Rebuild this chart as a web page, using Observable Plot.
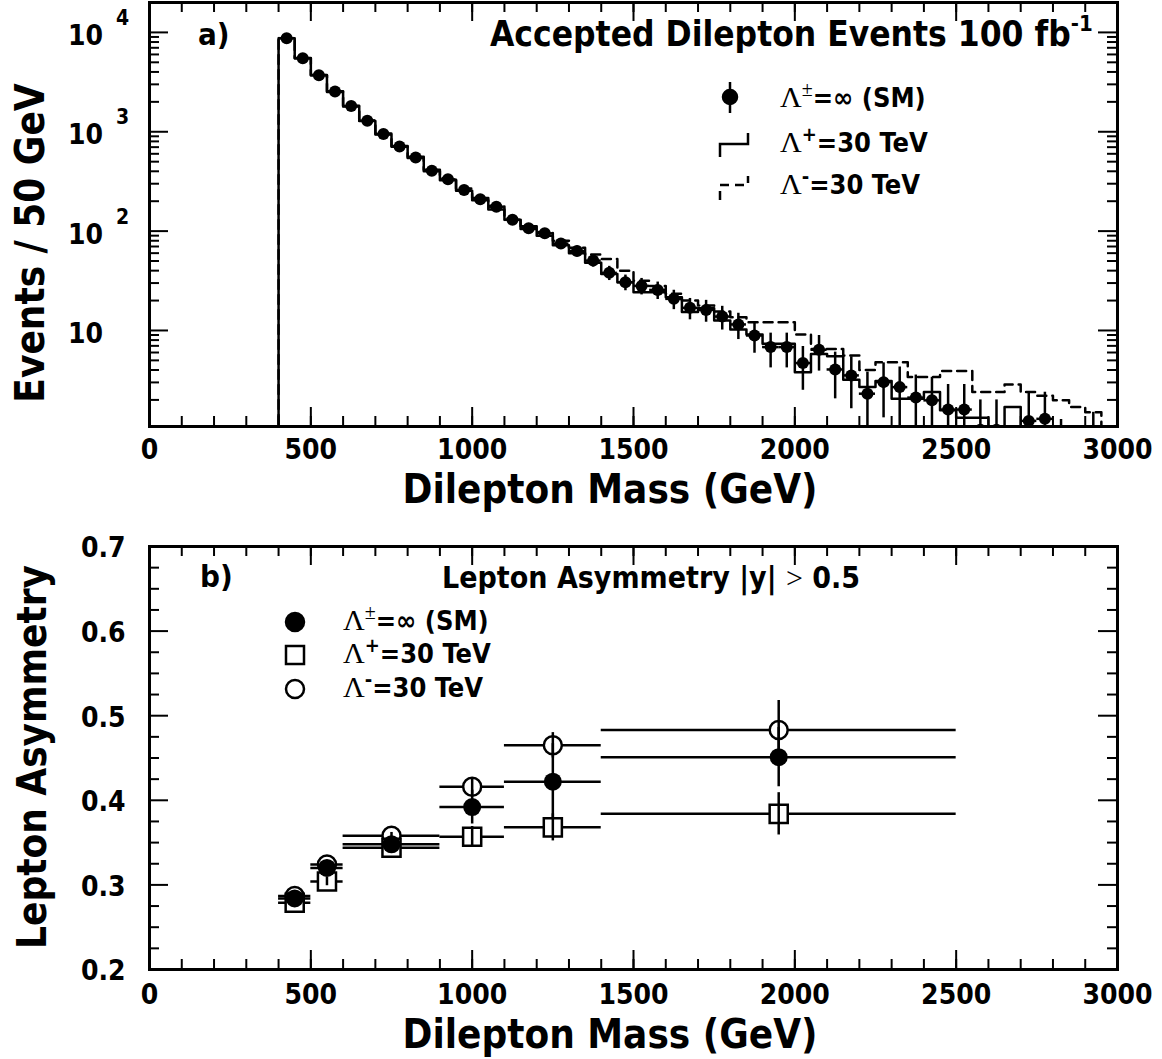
<!DOCTYPE html>
<html><head><meta charset="utf-8">
<script src="https://cdn.jsdelivr.net/npm/d3@7"></script>
<script src="https://cdn.jsdelivr.net/npm/@observablehq/plot@0.6"></script>
<style>
html,body{margin:0;padding:0;background:#fff;}
#chart svg{display:block;background:#fff;}
</style></head><body><div id="chart"></div>
<script>
const FONT = '"DejaVu Sans Condensed","DejaVu Sans",sans-serif';
const SERIF = '"Liberation Serif","DejaVu Serif",serif';

// ---------- Panel a: accepted dilepton events per 50 GeV bin ----------
const binWidth = 50;
const massBins = [400,450,500,550,600,650,700,750,800,850,900,950,1000,1050,1100,1150,1200,1250,1300,1350,1400,1450,1500,1550,1600,1650,1700,1750,1800,1850,1900,1950,2000,2050,2100,2150,2200,2250,2300,2350,2400,2450,2500,2550,2600,2650,2700,2750,2800,2850,2900];
const smEvents = [8750,5500,3715,2540,1813,1290,948,712,552,405,332,259,209,176,130,107,95,75,63,50.5,38,30.6,28.1,25.6,20.8,16.9,16.1,13.8,11.5,8.9,6.8,6.8,4.7,6.4,4.05,3.53,2.31,3.02,2.69,2.11,1.98,1.6,1.6,1.0,1.0,null,1.23,1.29,0.5,null,0.5];
const smErr = [93.5,74.2,61,50.4,42.6,35.9,30.8,26.7,23.5,20.1,18.2,16.1,14.5,13.3,11.4,10.3,9.7,8.7,7.9,7.1,6.2,5.5,5.3,5.1,4.6,4.1,4.0,3.7,3.4,3.0,2.6,2.6,2.2,2.5,2.0,1.9,1.5,1.7,1.6,1.45,1.4,1.26,1.26,1.0,1.0,null,1.1,1.1,0.77,null,1.0];
const lamPlusEvents = [8750,5500,3700,2520,1800,1280,940,705,545,400,325,255,205,165,130,105,90,72,60,48,37,30.6,24.3,24.3,21.6,15.3,16.7,12.6,10.2,9.1,7.35,7.35,3.8,5.8,5.5,3.2,2.7,3.1,2.06,2.06,2.4,1.57,1.32,1.32,0,1.7,0,0,0,0,0];
const lamMinusEvents = [8750,5520,3730,2560,1830,1300,960,720,560,415,340,268,215,180,135,112,98,80,68,58,52.5,40,31.6,28,23.4,20,17.8,15.5,13.6,12.1,12.1,12.1,9.1,6.5,6.5,5.6,4.0,4.8,4.8,3.4,3.4,3.9,3.9,2.4,2.4,2.86,2.4,2.2,1.98,1.7,1.5];

const xLabels = [0,500,1000,1500,2000,2500,3000];
const xMinorTicks = [0,100,200,300,400,500,600,700,800,900,1000,1100,1200,1300,1400,1500,1600,1700,1800,1900,2000,2100,2200,2300,2400,2500,2600,2700,2800,2900,3000];
const yDecadesA = [10,100,1000,10000];
const yDecadeExp = ["", "2", "3", "4"];
const yMinorA = [2,3,4,5,6,7,8,9,20,30,40,50,60,70,80,90,200,300,400,500,600,700,800,900,2000,3000,4000,5000,6000,7000,8000,9000];

// ---------- Panel b: lepton asymmetry ----------
const asymLo = [400,500,600,900,1100,1400];
const asymHi = [500,600,900,1100,1400,2500];
const asymCenter = [450,550,750,1000,1250,1950];
const asymSM = [0.284,0.320,0.348,0.392,0.422,0.451];
const asymPlus = [0.279,0.304,0.344,0.357,0.368,0.384];
const asymMinus = [0.287,0.324,0.358,0.416,0.465,0.483];
const asymErrSM = [0.004,0.005,0.004,0.02,0.045,0.035];
const asymErrPlus = [0.004,0.005,0.004,0.012,0.016,0.025];
const asymErrMinus = [0.004,0.005,0.004,0.01,0.015,0.035];
const yLabelsB = [0.2,0.3,0.4,0.5,0.6,0.7];
const yMinorB = [0.225,0.25,0.275,0.325,0.35,0.375,0.425,0.45,0.475,0.525,0.55,0.575,0.625,0.65,0.675];

// ---------- layout ----------
const W = 1162;
const mL = 149, mR = 45;
const FW = W - mL - mR;
const A = {h: 520, mt: 2, mb: 94};
const B = {h: 539, mt: 26, mb: 90};
const FHA = A.h - A.mt - A.mb;
const FHB = B.h - B.mt - B.mb;
const FLOOR = 0.05;

function tickMarks(xMaj, xMin, yMaj, yMin, FH) {
  const sw = 2;
  return [
    Plot.ruleX(xMin, {x: d => d, insetTop: FH - 10, strokeWidth: sw}),
    Plot.ruleX(xMin, {x: d => d, insetBottom: FH - 10, strokeWidth: sw}),
    Plot.ruleX(xMaj, {x: d => d, insetTop: FH - 19, strokeWidth: sw}),
    Plot.ruleX(xMaj, {x: d => d, insetBottom: FH - 19, strokeWidth: sw}),
    Plot.ruleY(yMin, {y: d => d, insetRight: FW - 10, strokeWidth: sw}),
    Plot.ruleY(yMin, {y: d => d, insetLeft: FW - 10, strokeWidth: sw}),
    Plot.ruleY(yMaj, {y: d => d, insetRight: FW - 19, strokeWidth: sw}),
    Plot.ruleY(yMaj, {y: d => d, insetLeft: FW - 19, strokeWidth: sw})
  ];
}

function histPath(values) {
  const pts = [{x: massBins[0], y: FLOOR}];
  values.forEach((v, i) => pts.push({x: massBins[i], y: Math.max(v, FLOOR)}));
  const last = massBins[massBins.length - 1] + binWidth;
  pts.push({x: last, y: Math.max(values[values.length - 1], FLOOR)});
  pts.push({x: last, y: FLOOR});
  return pts;
}

const smRows = massBins.map((lo, i) => ({lo, hi: lo + binWidth, c: lo + binWidth / 2, v: smEvents[i], e: smErr[i]}))
  .filter(d => d.v != null);

const plotA = Plot.plot({
  width: W, height: A.h,
  marginLeft: mL, marginRight: mR, marginTop: A.mt, marginBottom: A.mb,
  style: {fontFamily: FONT, fontWeight: "bold", color: "black", background: "white"},
  x: {domain: [0, 3000], axis: null},
  y: {type: "log", domain: [1.08, 2.0e4], axis: null},
  marks: [
    Plot.line(histPath(lamPlusEvents), {x: "x", y: "y", curve: "step-after", stroke: "black", strokeWidth: 2.5, clip: true}),
    Plot.line(histPath(lamMinusEvents), {x: "x", y: "y", curve: "step-after", stroke: "black", strokeWidth: 2.5, strokeDasharray: "9,6", clip: true}),
    Plot.ruleY(smRows, {y: "v", x1: "lo", x2: "hi", strokeWidth: 2.5, clip: true}),
    Plot.ruleX(smRows, {x: "c", y1: d => Math.max(d.v - d.e, FLOOR), y2: d => d.v + d.e, strokeWidth: 2.5, clip: true}),
    Plot.dot(smRows, {x: "c", y: "v", r: 6, fill: "black", clip: true}),
    ...tickMarks(xLabels, xMinorTicks, yDecadesA, yMinorA, FHA),
    Plot.frame({strokeWidth: 3}),
    Plot.text(xLabels, {x: d => d, text: d => String(d), frameAnchor: "bottom", dy: 24, lineAnchor: "middle", fontSize: 28, fontWeight: "bold"})
  ]
});

const asymRows = [];
asymCenter.forEach((c, i) => {
  asymRows.push({s: "sm", c, lo: asymLo[i], hi: asymHi[i], v: asymSM[i], e: asymErrSM[i]});
  asymRows.push({s: "plus", c, lo: asymLo[i], hi: asymHi[i], v: asymPlus[i], e: asymErrPlus[i]});
  asymRows.push({s: "minus", c, lo: asymLo[i], hi: asymHi[i], v: asymMinus[i], e: asymErrMinus[i]});
});

const plotB = Plot.plot({
  width: W, height: B.h,
  marginLeft: mL, marginRight: mR, marginTop: B.mt, marginBottom: B.mb,
  style: {fontFamily: FONT, fontWeight: "bold", color: "black", background: "white"},
  x: {domain: [0, 3000], axis: null},
  y: {domain: [0.2, 0.7], axis: null},
  marks: [
    Plot.ruleY(asymRows, {y: "v", x1: "lo", x2: "hi", strokeWidth: 2.5}),
    Plot.dot(asymRows.filter(d => d.s === "minus"), {x: "c", y: "v", r: 9, symbol: "circle", fill: "white", stroke: "black", strokeWidth: 2.5}),
    Plot.dot(asymRows.filter(d => d.s === "plus"), {x: "c", y: "v", r: 10.2, symbol: "square", fill: "white", stroke: "black", strokeWidth: 2.5}),
    Plot.ruleX(asymRows, {x: "c", y1: d => d.v - d.e, y2: d => d.v + d.e, strokeWidth: 2.5}),
    Plot.dot(asymRows.filter(d => d.s === "sm"), {x: "c", y: "v", r: 9, fill: "black"}),
    ...tickMarks(xLabels, xMinorTicks, yLabelsB, yMinorB, FHB),
    Plot.frame({strokeWidth: 3}),
    Plot.text(xLabels, {x: d => d, text: d => String(d), frameAnchor: "bottom", dy: 26, lineAnchor: "middle", fontSize: 28, fontWeight: "bold"}),
    Plot.text(yLabelsB, {y: d => d, text: d => d.toFixed(1), frameAnchor: "left", dx: -24, dy: 2, textAnchor: "end", lineAnchor: "middle", fontSize: 28, fontWeight: "bold"})
  ]
});

// ---------- rich text helpers ----------
function rich(svg, x, y, parts, opt = {}) {
  const t = d3.select(svg).append("text").attr("x", x).attr("y", y)
    .attr("text-anchor", opt.anchor || "start").attr("fill", "black");
  if (opt.rotate) t.attr("transform", `rotate(-90 ${x} ${y})`);
  let shift = 0;
  for (const p of parts) {
    const s = t.append("tspan").text(p.t)
      .attr("font-family", p.serif ? SERIF : FONT)
      .attr("font-weight", p.serif ? "normal" : "bold")
      .attr("font-size", p.size || 28);
    const want = p.up || 0;
    if (want !== shift) { s.attr("dy", shift - want); shift = want; }
  }
  return t;
}

const svgA = plotA, svgB = plotB;
const yA = plotA.scale("y");

// y tick labels panel a
yDecadesA.forEach((v, i) => {
  const py = yA.apply(v);
  rich(svgA, 103, py + 13, [{t: "10", size: 28}], {anchor: "end"});
  if (yDecadeExp[i]) rich(svgA, 116, py - 7, [{t: yDecadeExp[i], size: 21}]);
});

// axis titles
rich(svgA, 44, 243, [{t: "Events / 50 GeV", size: 40}], {anchor: "middle", rotate: true});
rich(svgA, 610, 503, [{t: "Dilepton Mass (GeV)", size: 40}], {anchor: "middle"});
rich(svgB, 46, 757 - 520, [{t: "Lepton Asymmetry", size: 40}], {anchor: "middle", rotate: true});
rich(svgB, 610, 1048 - 520, [{t: "Dilepton Mass (GeV)", size: 40}], {anchor: "middle"});

// panel a labels & legend
rich(svgA, 198, 45, [{t: "a)", size: 31}]);
rich(svgA, 490, 46, [{t: "Accepted Dilepton Events 100 fb", size: 35}, {t: "-1", size: 22, up: 15}]);

const gA = d3.select(svgA).append("g").attr("stroke", "black").attr("stroke-width", 2.5).attr("fill", "none");
gA.append("line").attr("x1", 730).attr("x2", 730).attr("y1", 82).attr("y2", 113);
gA.append("circle").attr("cx", 730).attr("cy", 97).attr("r", 7).attr("fill", "black");
gA.append("path").attr("d", "M720,157V144H748V133");
gA.append("path").attr("d", "M720,200V185H748V176").attr("stroke-dasharray", "9,6");
rich(svgA, 780, 107, [{t: "Λ", serif: true, size: 30}, {t: "±", serif: true, size: 20, up: 11}, {t: "=∞ (SM)", size: 27}]);
rich(svgA, 780, 152, [{t: "Λ", serif: true, size: 30}, {t: "+", size: 20, up: 11}, {t: "=30 TeV", size: 27}]);
rich(svgA, 780, 194, [{t: "Λ", serif: true, size: 30}, {t: "-", size: 20, up: 11}, {t: "=30 TeV", size: 27}]);

// panel b labels & legend
const oB = 520;
rich(svgB, 200, 587 - oB, [{t: "b)", size: 31}]);
rich(svgB, 442, 588 - oB, [{t: "Lepton Asymmetry |y| ", size: 30}, {t: ">", serif: true, size: 30}, {t: " 0.5", size: 30}]);
const gB = d3.select(svgB).append("g").attr("stroke", "black").attr("stroke-width", 2.5);
gB.append("circle").attr("cx", 295).attr("cy", 622 - oB).attr("r", 9).attr("fill", "black");
gB.append("rect").attr("x", 286).attr("y", 646 - oB).attr("width", 18).attr("height", 18).attr("fill", "white");
gB.append("circle").attr("cx", 295).attr("cy", 689 - oB).attr("r", 9).attr("fill", "white");
rich(svgB, 343, 630 - oB, [{t: "Λ", serif: true, size: 30}, {t: "±", serif: true, size: 20, up: 11}, {t: "=∞ (SM)", size: 27}]);
rich(svgB, 343, 663 - oB, [{t: "Λ", serif: true, size: 30}, {t: "+", size: 20, up: 11}, {t: "=30 TeV", size: 27}]);
rich(svgB, 343, 697 - oB, [{t: "Λ", serif: true, size: 30}, {t: "-", size: 20, up: 11}, {t: "=30 TeV", size: 27}]);

document.getElementById("chart").append(svgA, svgB);
</script></body></html>
